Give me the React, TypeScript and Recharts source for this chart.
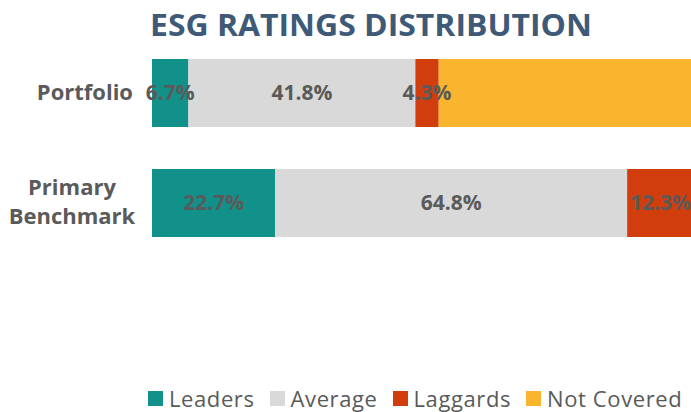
import { BarChart, Bar, XAxis, YAxis, Legend, LabelList } from "recharts";

const categories = ["Portfolio", "Primary Benchmark"];
const leaders = [6.7, 22.7];
const average = [41.8, 64.8];
const laggards = [4.3, 12.3];
const notCovered = [47.2, 0.2];

const SERIES = [
  { key: "leaders", name: "Leaders", color: "#12918a", label: true },
  { key: "average", name: "Average", color: "#d9d9d9", label: true },
  { key: "laggards", name: "Laggards", color: "#d13d0c", label: true },
  { key: "notCovered", name: "Not Covered", color: "#fbb42e", label: false },
];

const data = categories.map((name, i) => ({
  name,
  leaders: leaders[i],
  average: average[i],
  laggards: laggards[i],
  notCovered: notCovered[i],
}));

const FONT = "'Open Sans', sans-serif";
const TEXT = "#5a5a5a";

function CategoryTick({ y, payload }: any) {
  const words = String(payload.value).split(" ");
  if (words.length === 1) {
    return (
      <text x={133} y={y} dy={7} textAnchor="end" fontFamily={FONT} fontSize={22} fontWeight={700} fill={TEXT}>
        {payload.value}
      </text>
    );
  }
  return (
    <text x={72} y={y} textAnchor="middle" fontFamily={FONT} fontSize={22} fontWeight={700} fill={TEXT}>
      {words.map((w, i) => (
        <tspan key={w} x={72} dy={i === 0 ? -8 : 29}>
          {w}
        </tspan>
      ))}
    </text>
  );
}

function LegendContent() {
  return (
    <div
      style={{
        display: "flex",
        alignItems: "center",
        gap: 15,
        fontFamily: FONT,
        fontSize: 22,
        letterSpacing: 0.6,
        lineHeight: "26px",
        color: TEXT,
        whiteSpace: "nowrap",
      }}
    >
      {SERIES.map((s) => (
        <div key={s.key} style={{ display: "flex", alignItems: "center", gap: 6 }}>
          <span style={{ width: 15, height: 15, background: s.color, display: "inline-block" }} />
          <span>{s.name}</span>
        </div>
      ))}
    </div>
  );
}

export default function App() {
  return (
    <div style={{ position: "absolute", left: 0, top: 0, width: 691, height: 412, overflow: "hidden", background: "#fff" }}>
      <svg width={691} height={50} style={{ position: "absolute", left: 0, top: 0 }}>
        <text
          x={150}
          y={36}
          textLength={442}
          lengthAdjust="spacingAndGlyphs"
          fontFamily={FONT}
          fontSize={31}
          fontWeight={700}
          fill="#3e5a76"
        >
          ESG RATINGS DISTRIBUTION
        </text>
      </svg>
      <BarChart
        width={700}
        height={412}
        data={data}
        layout="vertical"
        margin={{ top: 38, right: 5, left: 0, bottom: 154 }}
        barSize={68}
      >
        <XAxis type="number" domain={[0, 100]} hide />
        <YAxis
          type="category"
          dataKey="name"
          width={152}
          axisLine={false}
          tickLine={false}
          tick={<CategoryTick />}
        />
        {SERIES.map((s) => (
          <Bar key={s.key} dataKey={s.key} name={s.name} stackId="a" fill={s.color} isAnimationActive={false}>
            {s.label && (
              <LabelList
                dataKey={s.key}
                position="center"
                formatter={(v: any) => `${Number(v).toFixed(1)}%`}
                style={{ fontFamily: FONT, fontSize: 21, fontWeight: 700, fill: TEXT }}
              />
            )}
          </Bar>
        ))}
        <Legend
          layout="horizontal"
          verticalAlign="middle"
          content={<LegendContent />}
          wrapperStyle={{ top: 385, left: 148, width: 600 }}
        />
      </BarChart>
    </div>
  );
}
